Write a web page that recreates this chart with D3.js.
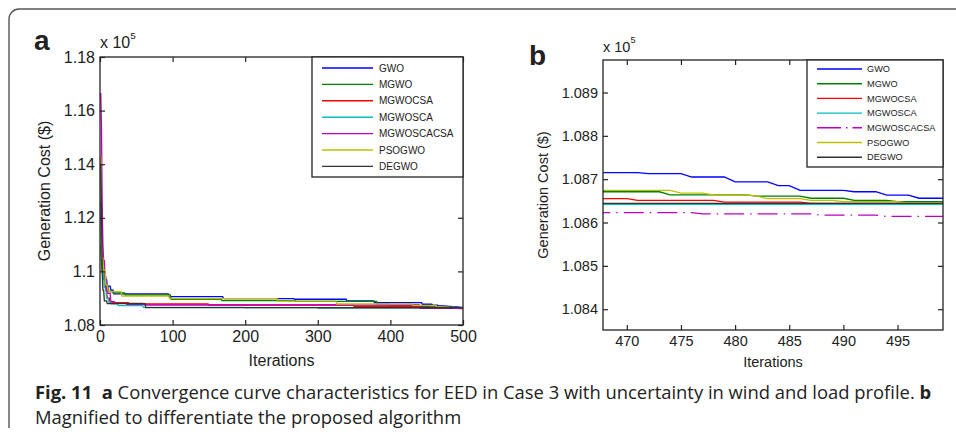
<!DOCTYPE html>
<html>
<head>
<meta charset="utf-8">
<script src="https://cdn.jsdelivr.net/npm/d3@7"></script>
<style>
  body { margin: 0; background: #fff; }
  svg { display: block; }
  text { font-family: "Liberation Sans", Arial, sans-serif; fill: #222; }
  .caption text { font-family: "Open Sans", "DejaVu Sans Condensed", sans-serif; }
</style>
</head>
<body>
<div id="chart"></div>
<script>
// Convergence curves: [iteration from which the value holds, generation cost in $]
var names = ["GWO", "MGWO", "MGWOCSA", "MGWOSCA", "MGWOSCACSA", "PSOGWO", "DEGWO"];
var colors = ["#0000ff", "#008000", "#ff0000", "#00bfbf", "#bf00bf", "#bfbf00", "#333333"];

var gwo = [[1,112600],[2,111200],[3,110500],[5,110000],[7,109700],[10,109450],[15,109300],[19,109160],
    [95,109060],[170,108985],[268,108960],[340,108900],[378,108835],[444,108775],[458,108740],[466,108715],
    [472,108713],[476,108705],[480,108694],[484,108685],[486,108674],[491,108671],[494,108663],[497,108656]];
var mgwo = [[1,111000],[2,110400],[3,110000],[5,109700],[8,109450],[12,109250],[18,109194],[35,109119],
    [98,108960],[168,108906],[270,108880],[382,108775],[400,108740],[440,108700],[455,108671],
    [474,108664],[482,108661],[487,108656],[491,108651],[495,108648]];
var mgwocsa = [[1,112000],[3,110800],[4,110400],[6,109900],[8,109300],[10,109000],[14,108832],[40,108806],
    [60,108784],[150,108746],[350,108700],[440,108655],[471,108651],[479,108647],[487,108644]];
var mgwosca = [[1,111500],[2,110500],[4,110000],[6,109400],[9,109000],[12,108850],[16,108790],[25,108720],
    [60,108660],[200,108645],[300,108642]];
var mgwoscacsa = [[1,116660],[2,115500],[3,112500],[4,111000],[5,110400],[7,109800],[9,109300],[11,109180],
    [15,108870],[21,108810],[37,108770],[62,108746],[441,108623],[477,108620],[488,108617],[494,108614]];
var psogwo = [[1,114270],[2,111000],[3,110500],[5,110050],[8,109500],[11,109300],[12,109244],[30,109082],
    [96,108981],[245,108890],[326,108784],[431,108736],[464,108674],[475,108668],[478,108664],[482,108661],
    [483,108655],[487,108651],[490,108648],[496,108645]];
var degwo = [[1,114000],[2,112500],[3,110000],[4,109300],[6,108900],[10,108800],[63,108650],[300,108644]];

var series = [gwo, mgwo, mgwocsa, mgwosca, mgwoscacsa, psogwo, degwo];
var maxIter = 500;

var xTicksA = [0, 100, 200, 300, 400, 500];
var yTicksA = [108000, 110000, 112000, 114000, 116000, 118000];
var xTicksB = [470, 475, 480, 485, 490, 495];
var yTicksB = [108400, 108500, 108600, 108700, 108800, 108900];

// one value per iteration, holding each level until the next change
function expand(bps) {
    var out = [], j = 0;
    for (var it = 1; it <= maxIter; it++) {
        while (j + 1 < bps.length && bps[j + 1][0] <= it) j++;
        out.push([it, bps[j][1]]);
    }
    return out;
}
var curves = series.map(expand);

var W = 956, H = 436;
var svg = d3.select("#chart").append("svg").attr("width", W).attr("height", H);

// rounded frame
svg.append("path")
    .attr("d", "M9,428 V19 A10,10 0 0 1 19,9 H956")
    .attr("fill", "none").attr("stroke", "#555").attr("stroke-width", 1.4);

svg.append("defs").append("clipPath").attr("id", "clipB")
    .append("rect").attr("x", 603).attr("y", 60).attr("width", 340).attr("height", 270);

function fmt(d) { return String(d / 1e5); }

var dashB = "20,6,1.5,6";

function panel(opt) {
    var x = d3.scaleLinear().domain(opt.xDomain).range([opt.left, opt.right]);
    var y = d3.scaleLinear().domain(opt.yDomain).range([opt.bottom, opt.top]);
    var g = svg.append("g");

    var line = d3.line().x(function(d) { return x(d[0]); }).y(function(d) { return y(d[1]); });
    var lines = g.append("g");
    if (opt.clip) lines.attr("clip-path", "url(#" + opt.clip + ")");
    curves.forEach(function(c, i) {
        lines.append("path")
            .attr("d", line(c))
            .attr("fill", "none")
            .attr("stroke", colors[i])
            .attr("stroke-width", 1.3)
            .attr("stroke-dasharray", (opt.dashed && i == 4) ? dashB : null);
    });

    // axes with inward ticks
    var ax = [
        d3.axisBottom(x).tickValues(opt.xTicks).tickSize(-5).tickPadding(6).tickFormat(d3.format("d")),
        d3.axisLeft(y).tickValues(opt.yTicks).tickSize(-5).tickPadding(5).tickFormat(fmt),
        d3.axisTop(x).tickValues(opt.xTicks).tickSize(-5).tickFormat(""),
        d3.axisRight(y).tickValues(opt.yTicks).tickSize(-5).tickFormat("")
    ];
    var pos = ["translate(0," + opt.bottom + ")", "translate(" + opt.left + ",0)",
               "translate(0," + opt.top + ")", "translate(" + opt.right + ",0)"];
    ax.forEach(function(a, i) {
        var ga = g.append("g").attr("transform", pos[i]).call(a);
        ga.select(".domain").remove();
        ga.selectAll("line").attr("stroke", "#222").attr("stroke-width", 1.2);
        ga.selectAll("text").attr("font-size", opt.fs).attr("font-family", "Liberation Sans, Arial, sans-serif").attr("fill", "#222");
    });

    g.append("rect")
        .attr("x", opt.left).attr("y", opt.top)
        .attr("width", opt.right - opt.left).attr("height", opt.bottom - opt.top)
        .attr("fill", "none").attr("stroke", "#222").attr("stroke-width", 1.3);

    // legend
    var L = opt.legend;
    g.append("rect")
        .attr("x", L.x0).attr("y", opt.top).attr("width", opt.right - L.x0).attr("height", L.y1 - opt.top)
        .attr("fill", "#fff").attr("stroke", "#222").attr("stroke-width", 1.3);
    names.forEach(function(n, i) {
        var yy = L.row0 + i * L.step;
        g.append("line")
            .attr("x1", L.lx0).attr("x2", L.lx1).attr("y1", yy).attr("y2", yy)
            .attr("stroke", colors[i]).attr("stroke-width", 1.4)
            .attr("stroke-dasharray", (opt.dashed && i == 4) ? "24,5,1.5,5" : null);
        g.append("text")
            .attr("x", L.tx).attr("y", yy).attr("dy", "0.35em")
            .attr("font-size", L.fs).text(n);
    });

    // labels
    g.append("text")
        .attr("x", (opt.left + opt.right) / 2).attr("y", opt.xLabelY)
        .attr("text-anchor", "middle").attr("font-size", opt.fs).text("Iterations");
    g.append("text")
        .attr("transform", "translate(" + opt.yLabelX + "," + (opt.top + opt.bottom) / 2 + ")rotate(-90)")
        .attr("text-anchor", "middle").attr("font-size", opt.fs).text("Generation Cost ($)");
    var ex = g.append("text").attr("x", opt.left).attr("y", opt.expY).attr("font-size", opt.fs);
    ex.append("tspan").text("x 10");
    ex.append("tspan").attr("font-size", opt.fs * 0.62).attr("dy", -9).text("5");
    g.append("text")
        .attr("x", opt.tagX).attr("y", opt.tagY)
        .attr("font-size", 28).attr("font-weight", "bold").attr("fill", "#111").text(opt.tag);
}

panel({
    tag: "a", tagX: 34, tagY: 50,
    left: 100, right: 463, top: 57, bottom: 325,
    xDomain: [0, 500], yDomain: [108000, 118000],
    xTicks: xTicksA, yTicks: yTicksA,
    fs: 16, xLabelY: 366, yLabelX: 50, expY: 48,
    legend: {x0: 312, y1: 177, row0: 68, step: 16.4, lx0: 322, lx1: 373, tx: 379, fs: 10},
    dashed: false
});

panel({
    tag: "b", tagX: 529, tagY: 65,
    left: 603, right: 943, top: 60, bottom: 330,
    xDomain: [467.8, 499.2], yDomain: [108352, 108975],
    xTicks: xTicksB, yTicks: yTicksB,
    fs: 14.5, xLabelY: 367, yLabelX: 548, expY: 52,
    legend: {x0: 807, y1: 167, row0: 69, step: 14.7, lx0: 817, lx1: 862, tx: 867, fs: 9.2},
    dashed: true, clip: "clipB"
});

// caption
var cap = svg.append("g").attr("class", "caption");
var t1 = cap.append("text").attr("x", 35).attr("y", 399).attr("font-size", 18.4).attr("fill", "#222");
t1.append("tspan").attr("font-weight", "bold").text("Fig. 11");
t1.append("tspan").attr("font-weight", "bold").text("\u00a0\u00a0a");
t1.append("tspan").text(" Convergence curve characteristics for EED in Case 3 with uncertainty in wind and load profile. ");
t1.append("tspan").attr("font-weight", "bold").text("b");
cap.append("text").attr("x", 35).attr("y", 424).attr("font-size", 18.4).attr("fill", "#222")
    .text("Magnified to differentiate the proposed algorithm");
</script>
</body>
</html>
